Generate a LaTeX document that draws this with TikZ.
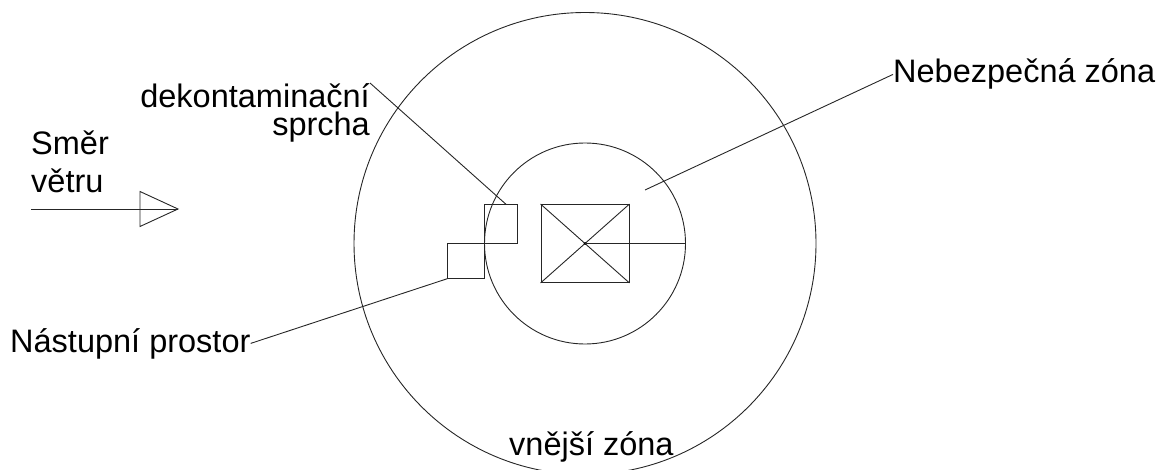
\documentclass[tikz,border=0pt]{standalone}
\usepackage{fontspec}
\setmainfont{Liberation Sans}
\begin{document}
\begin{tikzpicture}[x=1pt,y=-1pt,
  thin line/.style={line width=0.9pt,draw=black!85},
  lbl/.style={inner sep=0pt,font=\fontsize{32.5}{36}\selectfont}]
\useasboundingbox (0,0) rectangle (1158,470);
% zones
\coordinate (c) at (585,243.5);
\draw[thin line] (c) circle[radius=231];
\draw[thin line] (c) circle[radius=100.5];
% danger square
\node[draw=black!85,line width=0.9pt,minimum width=88pt,minimum height=78pt,inner sep=0pt] (sq) at (585,243.5) {};
\draw[thin line] (sq.north west) -- (sq.south east);
\draw[thin line] (sq.south west) -- (sq.north east);
\fill (sq.center) circle[radius=1.5pt];
\coordinate (cr) at (685.5,243.5);
\draw[thin line] (sq.center) -- (cr);
% shower and entry boxes
\node[draw=black!85,line width=0.9pt,minimum width=33pt,minimum height=39pt,inner sep=0pt,anchor=north west] (sh) at (484,204.3) {};
\node[draw=black!85,line width=0.9pt,minimum width=37pt,minimum height=34.5pt,inner sep=0pt,anchor=north west] (en) at (447.3,243.3) {};
% labels
\node[lbl,align=right,font=\fontsize{32.5}{28}\selectfont,anchor=north east] (dek) at (370,83) {dekontaminační\\sprcha};
\node[lbl,anchor=base west] (neb) at (893,83) {Nebezpečná zóna};
\node[lbl,anchor=base west] (nast) at (10,352) {Nástupní prostor};
\node[lbl,anchor=base west] (vne) at (509,455) {vnější zóna};
\node[lbl,anchor=base west] (smer) at (31,155) {Směr};
\node[lbl,anchor=base west] (vetru) at (31,193) {větru};
% leaders
\coordinate (shtop) at (506,204.3);
\draw[thin line] (dek.north east) -- (shtop);
\coordinate (nebend) at (645,190);
\draw[thin line] (neb.west) -- (nebend);
\draw[thin line] (nast.east) -- (en.south west);
% wind arrow
\coordinate (w0) at (31,209);
\coordinate (wt) at (178,209);
\coordinate (wa) at (140,191.5);
\coordinate (wb) at (140,226.5);
\draw[thin line] (w0) -- (wt);
\draw[thin line] (wa) -- (wt) -- (wb) -- cycle;
\end{tikzpicture}
\end{document}
